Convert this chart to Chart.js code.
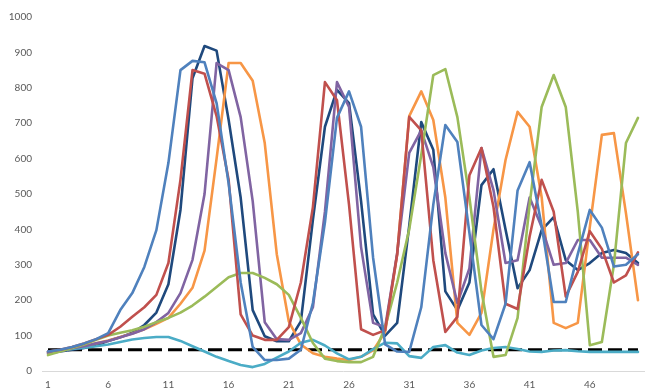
<!DOCTYPE html>
<html>
<head>
<meta charset="utf-8">
<script src="https://cdn.jsdelivr.net/npm/chart.js@4"></script>
<style>
  body { margin: 0; background: #ffffff; }
  #wrap { width: 645px; height: 392px; position: relative; }
</style>
</head>
<body>
<div id="wrap"><canvas id="lineChart"></canvas></div>
<script>
// data
var categories = [1,2,3,4,5,6,7,8,9,10,11,12,13,14,15,16,17,18,19,20,21,22,23,24,25,26,27,28,29,30,31,32,33,34,35,36,37,38,39,40,41,42,43,44,45,46,47,48,49,50]
var tickLabels = ["1", "6", "11", "16", "21", "26", "31", "36", "41", "46"]

var blueValues = [55, 60, 68, 78, 90, 107, 172, 220, 294, 398, 588, 850, 876, 872, 757, 530, 250, 68, 31, 31, 35, 60, 192, 420, 715, 790, 690, 320, 75, 55, 54, 180, 470, 695, 647, 390, 130, 90, 190, 510, 590, 410, 195, 195, 330, 455, 405, 295, 300, 330]
var redValues = [55, 60, 68, 78, 90, 102, 125, 153, 180, 215, 305, 540, 850, 840, 720, 540, 160, 100, 88, 88, 124, 250, 463, 816, 765, 470, 118, 102, 115, 330, 718, 680, 313, 110, 153, 553, 630, 463, 190, 175, 380, 540, 450, 210, 280, 395, 345, 250, 270, 335]
var greenValues = [45, 55, 65, 75, 88, 100, 108, 115, 125, 138, 150, 165, 185, 210, 237, 265, 277, 277, 263, 245, 215, 150, 79, 35, 28, 25, 25, 40, 124, 250, 400, 610, 836, 853, 717, 490, 225, 40, 45, 150, 470, 746, 836, 746, 450, 73, 82, 300, 644, 715]
var purpleValues = [52, 58, 64, 70, 78, 85, 95, 105, 118, 138, 164, 220, 314, 500, 870, 850, 717, 480, 138, 90, 88, 107, 180, 450, 816, 746, 350, 136, 124, 333, 616, 680, 576, 333, 192, 290, 630, 511, 305, 313, 490, 407, 300, 305, 370, 370, 320, 320, 320, 300]
var aquaValues = [55, 58, 62, 66, 70, 75, 82, 89, 93, 96, 96, 85, 70, 55, 40, 28, 17, 11, 20, 38, 55, 80, 88, 72, 50, 33, 40, 62, 80, 78, 42, 37, 68, 73, 52, 45, 58, 65, 68, 62, 55, 54, 58, 59, 56, 54, 54, 54, 54, 54]
var orangeValues = [52, 57, 63, 70, 78, 86, 96, 106, 118, 133, 150, 190, 235, 340, 600, 870, 870, 820, 644, 330, 140, 75, 50, 40, 35, 31, 40, 58, 110, 330, 720, 790, 709, 490, 136, 102, 164, 400, 596, 732, 690, 491, 136, 121, 136, 407, 667, 672, 446, 200]
var navyValues = [50, 55, 60, 65, 72, 85, 95, 108, 130, 165, 245, 455, 827, 918, 905, 710, 490, 172, 98, 84, 84, 140, 427, 690, 794, 757, 480, 160, 100, 136, 410, 703, 625, 225, 172, 250, 525, 570, 400, 234, 285, 398, 435, 313, 285, 305, 333, 342, 333, 305]
var thresholdValues = [60, 60, 60, 60, 60, 60, 60, 60, 60, 60, 60, 60, 60, 60, 60, 60, 60, 60, 60, 60, 60, 60, 60, 60, 60, 60, 60, 60, 60, 60, 60, 60, 60, 60, 60, 60, 60, 60, 60, 60, 60, 60, 60, 60, 60, 60, 60, 60, 60, 60]

function line(values, color) {
  return {
    data: values,
    borderColor: color,
    backgroundColor: color,
    borderWidth: 2.6,
    pointRadius: 0,
    tension: 0,
    fill: false,
    borderJoinStyle: 'round',
    borderCapStyle: 'round'
  }
}

var threshold = line(thresholdValues, '#000000')
threshold.borderWidth = 3
threshold.borderDash = [14, 6]
threshold.borderCapStyle = 'butt'

const data = {
  labels: categories,
  datasets: [
    line(blueValues, '#4F81BD'),
    line(redValues, '#C0504D'),
    line(greenValues, '#9BBB59'),
    line(purpleValues, '#8064A2'),
    line(aquaValues, '#4BACC6'),
    line(orangeValues, '#F79646'),
    line(navyValues, '#1F497D'),
    threshold
  ]
}

const config = {
  type: 'line',
  data,
  options: {
    responsive: true,
    maintainAspectRatio: false,
    animation: false,
    layout: { padding: { top: 17, right: 1, bottom: 0, left: 0 } },
    plugins: {
      legend: { display: false },
      tooltip: { enabled: false }
    },
    scales: {
      x: {
        offset: true,
        grid: { display: false, drawTicks: false },
        border: { display: true, color: '#d9d9d9', width: 1 },
        afterFit: function(scale) { scale.height = 21 },
        ticks: {
          autoSkip: false,
          maxRotation: 0,
          padding: 8,
          color: '#595959',
          font: { family: 'Lato', size: 10 },
          callback: function(val, idx) {
            var lab = String(categories[idx])
            return tickLabels.indexOf(lab) >= 0 ? lab : null
          }
        }
      },
      y: {
        min: 0,
        max: 1000,
        grid: { display: false, drawTicks: false },
        border: { display: false },
        afterFit: function(scale) { scale.width = 42 },
        ticks: {
          stepSize: 100,
          padding: 10,
          color: '#595959',
          font: { family: 'Lato', size: 10 },
          callback: function(val) { return String(val) }
        }
      }
    }
  }
}

const myChart = new Chart(document.getElementById('lineChart'), config)
</script>
</body>
</html>
